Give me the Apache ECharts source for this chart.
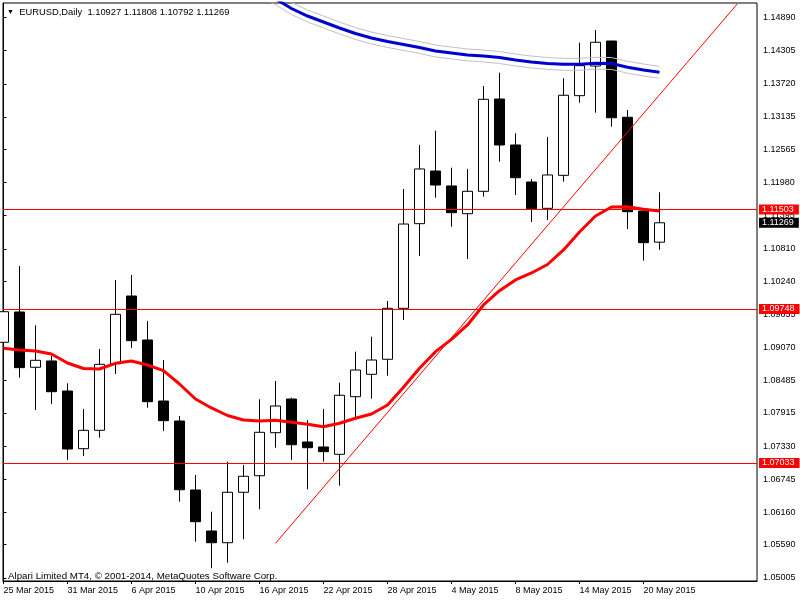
<!DOCTYPE html>
<html><head><meta charset="utf-8">
<script src="https://cdn.jsdelivr.net/npm/echarts@6/dist/echarts.min.js"></script>
<style>html,body{margin:0;padding:0;background:#fff}#c{width:800px;height:600px}</style>
</head><body><div id="c"></div>
<script>
// ---- data (EURUSD Daily) ----
const dates = ['25 Mar 2015','26 Mar 2015','27 Mar 2015','30 Mar 2015','31 Mar 2015','1 Apr 2015','2 Apr 2015','3 Apr 2015',
  '6 Apr 2015','7 Apr 2015','8 Apr 2015','9 Apr 2015','10 Apr 2015','13 Apr 2015','14 Apr 2015','15 Apr 2015',
  '16 Apr 2015','17 Apr 2015','20 Apr 2015','21 Apr 2015','22 Apr 2015','23 Apr 2015','24 Apr 2015','27 Apr 2015',
  '28 Apr 2015','29 Apr 2015','30 Apr 2015','1 May 2015','4 May 2015','5 May 2015','6 May 2015','7 May 2015',
  '8 May 2015','11 May 2015','12 May 2015','13 May 2015','14 May 2015','15 May 2015','18 May 2015','19 May 2015',
  '20 May 2015','21 May 2015'];
const openP = [1.09161,1.09695,1.08720,1.08831,1.08301,1.07284,1.07608,1.08783,1.09977,1.09201,1.08125,1.07772,1.06555,1.05832,1.05625,1.06515,
  1.06807,1.07566,1.08160,1.07402,1.07314,1.07185,1.08201,1.08596,1.08861,1.09760,1.11253,1.12182,1.11918,1.11429,1.11824,1.13452,
  1.12641,1.11988,1.11524,1.12106,1.13511,1.14034,1.14475,1.13130,1.11477,1.10927];
const highP = [1.10118,1.10507,1.09460,1.08919,1.08437,1.07984,1.09042,1.10260,1.10348,1.09536,1.08848,1.07860,1.06820,1.06172,1.07054,1.06996,
  1.08155,1.08478,1.08183,1.07790,1.07984,1.08448,1.08995,1.09259,1.09889,1.11865,1.12641,1.12893,1.12240,1.12218,1.13682,1.13916,
  1.12847,1.12041,1.12782,1.13818,1.14446,1.14670,1.14480,1.13258,1.11480,1.11808];
const lowP = [1.08989,1.08536,1.07966,1.08072,1.07084,1.07155,1.07478,1.08601,1.09060,1.08007,1.07596,1.06349,1.05643,1.05174,1.05273,1.05685,
  1.06215,1.07301,1.07084,1.06567,1.07054,1.06631,1.07820,1.08166,1.08571,1.09554,1.10683,1.11711,1.11200,1.10630,1.11729,1.12346,
  1.11759,1.11283,1.11318,1.11994,1.13387,1.13211,1.12964,1.11159,1.10600,1.10792];
const closeP = [1.09700,1.08713,1.08843,1.08289,1.07278,1.07608,1.08772,1.09654,1.09189,1.08113,1.07778,1.06560,1.05996,1.05625,1.06515,1.06797,
  1.07573,1.08037,1.07354,1.07301,1.07231,1.08226,1.08672,1.08848,1.09760,1.11247,1.12218,1.11935,1.11447,1.11824,1.13447,1.12641,
  1.12064,1.11517,1.12112,1.13518,1.14040,1.14453,1.13122,1.11464,1.10918,1.11269];
const maRed = [1.09055,1.09025,1.09007,1.08954,1.08795,1.08698,1.08690,1.08790,1.08831,1.08760,1.08660,1.08425,1.08160,1.08002,1.07869,1.07790,
  1.07772,1.07785,1.07749,1.07714,1.07672,1.07732,1.07820,1.07896,1.08055,1.08367,1.08702,1.08995,1.09213,1.09466,1.09819,1.10071,
  1.10260,1.10383,1.10533,1.10789,1.11106,1.11389,1.11547,1.11553,1.11507,1.11477];
const maBlueStart = 16;
const maBlue = [1.15380,1.15220,1.15049,1.14916,1.14811,1.14705,1.14608,1.14528,1.14467,1.14414,1.14361,1.14299,1.14264,1.14229,1.14211,1.14184,
  1.14140,1.14105,1.14079,1.14064,1.14064,1.14082,1.14079,1.14012,1.13964,1.13923];
const envUpper = [1.15485,1.15325,1.15154,1.15021,1.14916,1.14810,1.14713,1.14633,1.14572,1.14519,1.14466,1.14404,1.14369,1.14334,1.14316,1.14289,
  1.14245,1.14210,1.14184,1.14169,1.14169,1.14187,1.14184,1.14117,1.14069,1.14028];
const envLower = [1.15275,1.15115,1.14944,1.14811,1.14706,1.14600,1.14503,1.14423,1.14362,1.14309,1.14256,1.14194,1.14159,1.14124,1.14106,1.14079,
  1.14035,1.14000,1.13974,1.13959,1.13959,1.13977,1.13974,1.13907,1.13859,1.13818];
const levels = [1.11503, 1.09748, 1.07033];
const trendline = [[17.0, 1.05615], [45.86, 1.15128]];
const yTicks = [1.05005,1.05590,1.06160,1.06745,1.07330,1.07915,1.08485,1.09070,1.09655,1.10240,1.10810,1.11395,1.11980,1.12565,1.13135,1.13720,1.14305,1.14890];
const xTickIdx = [0,4,8,12,16,20,24,28,32,36,40];
const symbolName = 'EURUSD,Daily';
const footer = 'Alpari Limited MT4, \u00A9 2001-2014, MetaQuotes Software Corp.';

// ---- chart ----
const FONT = 'Liberation Sans';
const X_MIN = -0.03, X_MAX = 47.095, Y_MIN = 1.049498, Y_MAX = 1.151458;
const last = dates.length - 1;
const candleData = dates.map((d, i) => [i, openP[i], closeP[i], lowP[i], highP[i]]);
const redData = maRed.map((v, i) => [i, v]);
const blueData = maBlue.map((v, i) => [i + maBlueStart, v]);
const upData = envUpper.map((v, i) => [i + maBlueStart, v]);
const loData = envLower.map((v, i) => [i + maBlueStart, v]);
const lblBase = {show: true, position: 'end', distance: 2, color: '#fff', fontFamily: FONT, fontSize: 9,
  lineHeight: 9, padding: [1, 5, 0, 3], formatter: p => Number(p.value).toFixed(5)};

const chart = echarts.init(document.getElementById('c'));
chart.setOption({
  animation: false,
  backgroundColor: '#ffffff',
  title: [
    {text: '{t|\u25BC}  ' + symbolName + '  ' + [openP[last], highP[last], lowP[last], closeP[last]].map(v => v.toFixed(5)).join(' '),
      left: 2, top: 3, textStyle: {fontFamily: FONT, fontSize: 9.4, fontWeight: 'normal', color: '#000',
      rich: {t: {fontSize: 7, color: '#000'}}}},
    {text: footer, left: 3, top: 566, textStyle: {fontFamily: FONT, fontSize: 9.75, fontWeight: 'normal', color: '#000'}}
  ],
  grid: {left: 3, right: 43, top: 3, bottom: 19, show: true, borderColor: '#000', borderWidth: 1, backgroundColor: 'transparent'},
  xAxis: {
    type: 'value', min: X_MIN, max: X_MAX,
    splitLine: {show: false},
    axisLine: {show: true, lineStyle: {color: '#000', width: 1}},
    axisTick: {show: true, length: 3, customValues: xTickIdx, lineStyle: {color: '#000'}},
    axisLabel: {customValues: xTickIdx, formatter: v => dates[Math.round(v)], align: 'left', margin: 5,
      fontFamily: FONT, fontSize: 9, color: '#000'}
  },
  yAxis: {
    type: 'value', position: 'right', min: Y_MIN, max: Y_MAX, scale: true,
    splitLine: {show: false},
    axisLine: {show: true, lineStyle: {color: '#000', width: 1}},
    axisTick: {show: true, length: 3, customValues: yTicks, lineStyle: {color: '#000'}},
    axisLabel: {customValues: yTicks, formatter: v => v.toFixed(5), margin: 6, fontFamily: FONT, fontSize: 9, color: '#000'}
  },
  series: [
    {type: 'candlestick', data: candleData, encode: {x: 0, y: [1, 2, 3, 4]}, barWidth: 10, clip: true,
      itemStyle: {color: '#ffffff', color0: '#000000', borderColor: '#000000', borderColor0: '#000000', borderWidth: 1}},
    {type: 'line', data: upData, symbol: 'none', clip: true, lineStyle: {color: '#c0c0c0', width: 1}, z: 3},
    {type: 'line', data: loData, symbol: 'none', clip: true, lineStyle: {color: '#c0c0c0', width: 1}, z: 3},
    {type: 'line', data: blueData, symbol: 'none', clip: true, lineStyle: {color: '#0000cd', width: 3}, z: 4},
    {type: 'line', data: redData, symbol: 'none', clip: true, lineStyle: {color: '#ff0000', width: 3}, z: 4},
    {type: 'line', data: trendline, symbol: 'none', clip: true, color: '#ff0000', lineStyle: {color: '#ff0000', width: 1}, z: 5,
      markLine: {silent: true, precision: 5, symbol: ['none', 'none'], animation: false, z: 10,
        lineStyle: {color: '#ff0000', width: 1, type: 'solid'},
        label: Object.assign({}, lblBase, {backgroundColor: '#ff0000'}),
        data: levels.map(v => ({yAxis: v}))}},
    {type: 'line', data: [], symbol: 'none', z: 10,
      markLine: {silent: true, precision: 5, symbol: ['none', 'none'], animation: false, z: 11,
        lineStyle: {color: 'rgba(0,0,0,0)', width: 1},
        label: Object.assign({}, lblBase, {backgroundColor: '#000000'}),
        data: [{yAxis: closeP[last]}]}}
  ]
});
</script></body></html>
